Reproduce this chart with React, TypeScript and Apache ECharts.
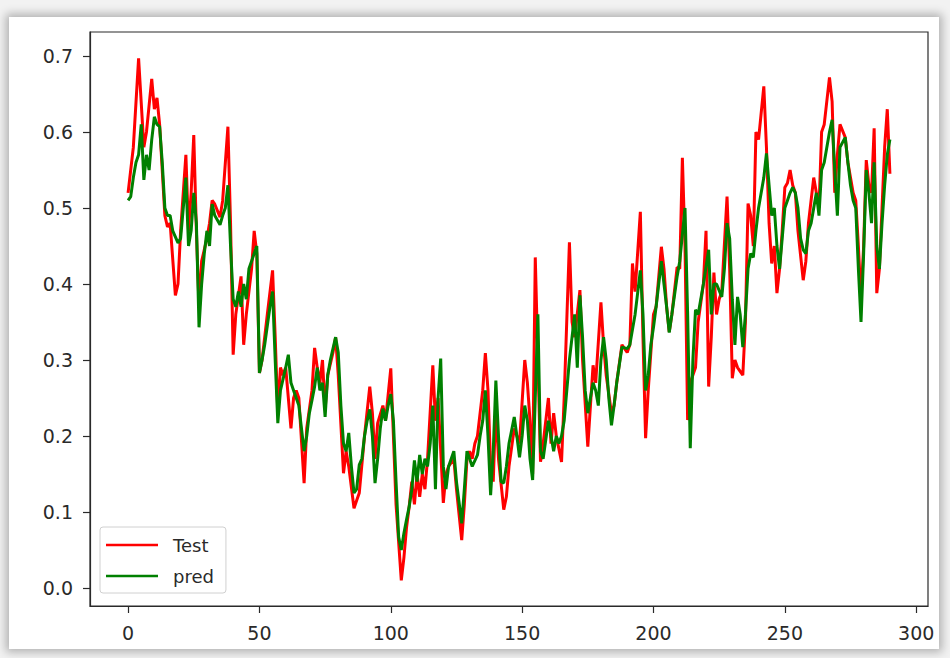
import React, { useEffect, useRef } from "react";
import * as echarts from "echarts";

// Test series: [sample index, value]
const testIdx = [0,2,4,6,7,9,10,11,12,14,15,16,18,19,20,22,23,24,25,26,27,28,30,31,32,33,35,36,38,39,40,41,43,44,45,47,48,49,50,51,53,55,56,57,58,59,60,62,63,64,65,67,68,70,71,72,73,74,75,76,78,79,80,82,83,84,86,87,88,90,92,93,94,95,97,98,100,101,102,104,105,106,107,108,109,110,111,112,113,114,116,117,118,120,121,122,124,125,127,128,129,130,131,132,133,135,136,137,138,139,140,141,143,144,145,147,148,149,151,152,153,154,155,156,157,158,160,161,162,163,165,166,168,169,170,172,173,175,176,177,178,180,181,182,184,185,186,188,190,191,192,193,195,196,197,198,200,201,203,204,205,206,207,209,210,211,212,213,214,216,217,219,220,221,222,223,224,225,226,228,229,230,231,232,234,235,236,237,238,239,240,242,243,244,245,246,247,248,249,250,251,252,253,254,255,257,258,259,261,262,263,264,265,267,268,269,270,271,273,274,276,277,278,279,280,281,282,283,284,285,286,287,288,289,290];
const testVal = [0.52,0.58,0.697,0.58,0.60,0.67,0.63,0.645,0.61,0.49,0.475,0.48,0.385,0.40,0.47,0.57,0.47,0.52,0.596,0.47,0.37,0.43,0.46,0.48,0.51,0.505,0.488,0.51,0.607,0.48,0.307,0.36,0.41,0.32,0.36,0.42,0.47,0.44,0.283,0.30,0.36,0.418,0.33,0.23,0.29,0.28,0.29,0.21,0.25,0.26,0.25,0.138,0.21,0.26,0.316,0.29,0.27,0.30,0.235,0.28,0.31,0.33,0.28,0.151,0.18,0.16,0.105,0.115,0.125,0.2,0.265,0.23,0.17,0.217,0.24,0.22,0.289,0.2,0.11,0.01,0.04,0.08,0.107,0.14,0.11,0.15,0.12,0.15,0.13,0.17,0.293,0.22,0.25,0.112,0.15,0.16,0.17,0.13,0.063,0.11,0.17,0.18,0.17,0.19,0.2,0.26,0.309,0.26,0.16,0.14,0.24,0.17,0.103,0.12,0.16,0.21,0.2,0.19,0.30,0.27,0.22,0.15,0.435,0.3,0.166,0.19,0.25,0.19,0.23,0.2,0.166,0.25,0.455,0.35,0.33,0.392,0.3,0.186,0.24,0.293,0.27,0.376,0.32,0.28,0.23,0.24,0.27,0.32,0.31,0.32,0.427,0.39,0.495,0.33,0.197,0.26,0.36,0.37,0.449,0.42,0.37,0.337,0.36,0.422,0.42,0.566,0.45,0.221,0.27,0.29,0.35,0.40,0.47,0.265,0.33,0.415,0.36,0.38,0.39,0.515,0.42,0.276,0.30,0.29,0.28,0.35,0.506,0.49,0.45,0.60,0.59,0.66,0.58,0.48,0.427,0.45,0.388,0.42,0.47,0.527,0.533,0.55,0.53,0.52,0.47,0.405,0.43,0.48,0.54,0.52,0.50,0.60,0.61,0.672,0.64,0.52,0.57,0.61,0.593,0.56,0.52,0.51,0.45,0.38,0.45,0.563,0.53,0.52,0.605,0.388,0.42,0.5,0.58,0.63,0.545];

// pred series: [sample index, value]
const predIdx = [0,1,2,3,4,5,6,7,8,9,10,11,12,13,14,15,16,17,19,20,21,22,23,24,25,26,27,28,29,30,31,32,33,35,36,37,38,39,40,41,42,43,44,45,46,47,48,49,50,51,52,54,55,56,57,58,60,61,62,63,64,65,66,67,68,69,70,71,72,73,74,75,76,77,79,80,81,82,83,84,85,86,87,88,89,90,91,92,93,94,95,96,97,98,99,100,101,102,103,104,105,106,107,108,109,110,111,112,113,114,115,116,117,118,119,120,121,122,124,125,127,128,129,130,131,133,134,135,136,137,138,139,140,141,142,143,144,145,147,148,149,150,151,152,153,154,155,156,157,158,160,161,162,163,164,165,166,168,169,170,171,172,173,174,175,176,177,178,179,180,181,182,183,184,185,186,188,190,191,192,193,195,196,197,198,199,200,201,203,204,205,206,207,209,210,212,213,214,215,216,217,218,219,221,222,223,224,226,227,228,229,230,231,232,233,234,235,236,237,238,239,240,242,243,244,245,246,247,248,249,250,251,252,253,254,255,256,257,258,259,260,261,262,263,264,265,267,268,269,270,271,273,274,275,276,277,278,279,280,281,282,283,284,285,286,287,288,289,290];
const predVal = [0.51,0.515,0.54,0.56,0.57,0.61,0.537,0.57,0.55,0.59,0.62,0.61,0.607,0.56,0.50,0.49,0.49,0.47,0.454,0.46,0.50,0.54,0.45,0.47,0.52,0.48,0.343,0.40,0.44,0.47,0.45,0.505,0.49,0.478,0.49,0.50,0.53,0.45,0.38,0.37,0.39,0.37,0.40,0.38,0.42,0.43,0.44,0.45,0.283,0.30,0.32,0.37,0.39,0.30,0.217,0.26,0.29,0.307,0.27,0.26,0.25,0.24,0.21,0.18,0.20,0.23,0.247,0.265,0.29,0.26,0.27,0.225,0.28,0.30,0.33,0.31,0.24,0.19,0.18,0.204,0.16,0.125,0.13,0.162,0.17,0.20,0.22,0.235,0.20,0.138,0.17,0.21,0.236,0.22,0.24,0.255,0.22,0.14,0.067,0.05,0.072,0.09,0.107,0.13,0.168,0.14,0.175,0.15,0.17,0.16,0.19,0.24,0.13,0.25,0.302,0.16,0.13,0.16,0.18,0.14,0.085,0.13,0.18,0.17,0.16,0.175,0.2,0.22,0.26,0.2,0.122,0.18,0.273,0.2,0.14,0.138,0.16,0.19,0.225,0.2,0.172,0.2,0.24,0.22,0.17,0.142,0.25,0.36,0.18,0.17,0.22,0.2,0.18,0.2,0.19,0.2,0.22,0.30,0.33,0.36,0.29,0.385,0.33,0.26,0.23,0.25,0.27,0.26,0.24,0.30,0.33,0.30,0.25,0.214,0.24,0.27,0.317,0.315,0.32,0.34,0.36,0.418,0.36,0.26,0.28,0.32,0.343,0.37,0.43,0.40,0.37,0.336,0.36,0.41,0.43,0.50,0.36,0.184,0.30,0.366,0.36,0.38,0.40,0.445,0.36,0.40,0.40,0.383,0.42,0.48,0.46,0.38,0.32,0.383,0.36,0.317,0.36,0.42,0.44,0.435,0.47,0.50,0.54,0.572,0.53,0.49,0.50,0.45,0.42,0.46,0.50,0.51,0.52,0.527,0.52,0.50,0.46,0.445,0.44,0.47,0.48,0.50,0.52,0.49,0.55,0.56,0.60,0.616,0.55,0.49,0.58,0.593,0.56,0.53,0.51,0.50,0.42,0.35,0.44,0.55,0.52,0.48,0.56,0.45,0.42,0.48,0.53,0.57,0.59];

const xTicks = [0, 50, 100, 150, 200, 250, 300];
const yTicks = [0, 0.1, 0.2, 0.3, 0.4, 0.5, 0.6, 0.7];

const zip = (xs: number[], ys: number[]) => xs.map((x, i) => [x, ys[i]]);

export default function App() {
  const ref = useRef<HTMLDivElement>(null);

  useEffect(() => {
    if (!ref.current) return;
    const chart = echarts.init(ref.current, null, { renderer: "svg" });
    const font = "DejaVu Sans";
    const ink = "#2a2a2a";
    chart.setOption({
      animation: false,
      backgroundColor: "transparent",
      grid: {
        left: 90,
        right: 22,
        top: 32,
        bottom: 52,
        show: true,
        borderColor: ink,
        borderWidth: 1.2,
        backgroundColor: "#fff",
      },
      legend: {
        orient: "vertical",
        left: 100,
        top: 527,
        itemWidth: 52,
        itemHeight: 2.5,
        itemGap: 13,
        padding: [9, 12, 8, 6],
        backgroundColor: "#fff",
        borderColor: "#d0d0d0",
        borderWidth: 1,
        borderRadius: 3,
        icon: "rect",
        textStyle: { fontFamily: font, fontSize: 18, color: ink, padding: [0, 0, 0, 10] },
        data: ["Test", "pred"],
      },
      xAxis: {
        type: "value",
        min: -14.5,
        max: 304.5,
        splitLine: { show: false },
        axisLine: { show: true, onZero: false, lineStyle: { color: ink, width: 1.2 } },
        axisTick: { show: true, length: 7, lineStyle: { color: ink, width: 1.2 }, customValues: xTicks },
        axisLabel: {
          customValues: xTicks,
          fontFamily: font,
          fontSize: 19,
          color: ink,
          margin: 17,
        },
      },
      yAxis: {
        type: "value",
        min: -0.0237,
        max: 0.7316,
        splitLine: { show: false },
        axisLine: { show: true, onZero: false, lineStyle: { color: ink, width: 1.2 } },
        axisTick: { show: true, length: 7, lineStyle: { color: ink, width: 1.2 }, customValues: yTicks },
        axisLabel: {
          customValues: yTicks,
          formatter: (v: number) => v.toFixed(1),
          fontFamily: font,
          fontSize: 19,
          color: ink,
          margin: 17,
        },
      },
      series: [
        {
          name: "Test",
          type: "line",
          data: zip(testIdx, testVal),
          showSymbol: false,
          symbol: "none",
          lineStyle: { color: "#ff0000", width: 3 },
          itemStyle: { color: "#ff0000" },
        },
        {
          name: "pred",
          type: "line",
          data: zip(predIdx, predVal),
          showSymbol: false,
          symbol: "none",
          lineStyle: { color: "#008000", width: 3 },
          itemStyle: { color: "#008000" },
        },
      ],
    });
    return () => chart.dispose();
  }, []);

  return (
    <div
      style={{
        position: "absolute",
        left: 0,
        top: 0,
        width: 950,
        height: 658,
        background: "#f2f2f2",
        overflow: "hidden",
      }}
    >
      <div
        style={{
          position: "absolute",
          left: 9,
          top: 17,
          width: 930,
          height: 632,
          background: "#fff",
          boxShadow: "0 0 9px 3px rgba(0,0,0,0.28)",
        }}
      />
      <div ref={ref} style={{ position: "absolute", left: 0, top: 0, width: 950, height: 658 }} />
    </div>
  );
}
